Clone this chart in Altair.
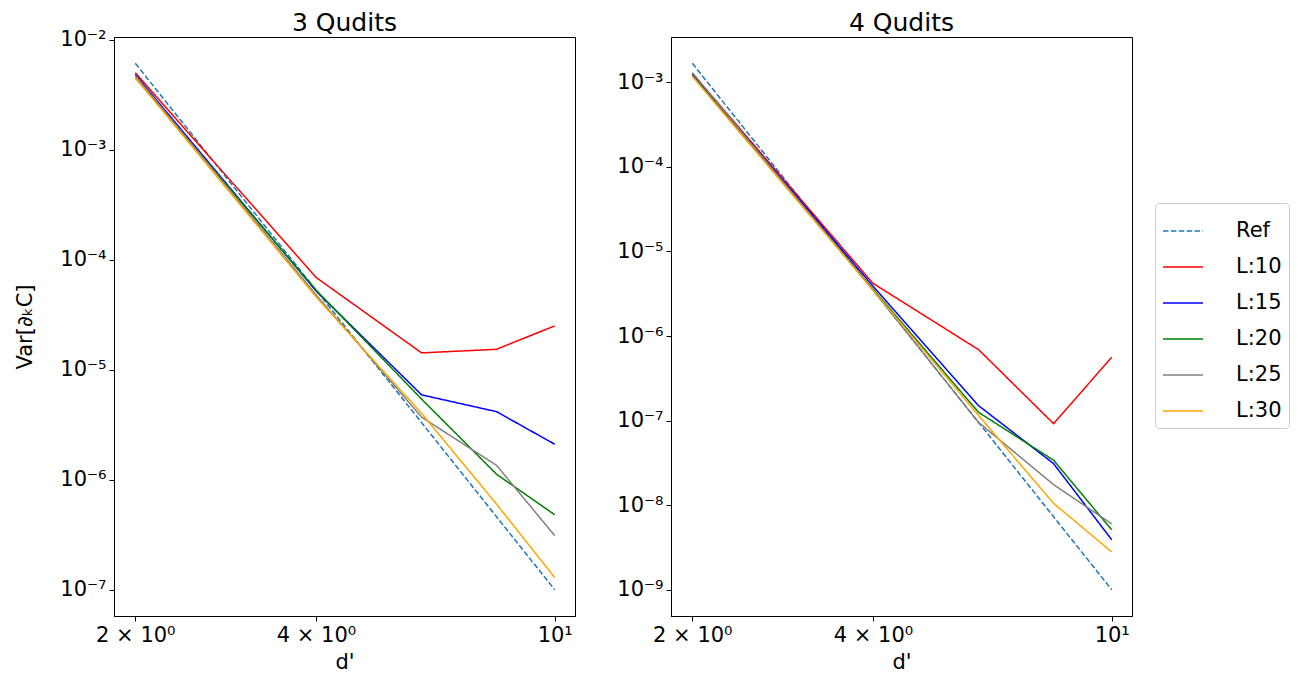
import altair as alt
import pandas as pd

d_vals = [2, 4, 6, 8, 10]
series_names = ["Ref", "L:10", "L:15", "L:20", "L:25", "L:30"]
series_colors = ["#1f77b4", "#ff0000", "#0000ff", "#008000", "#808080", "#ffa500"]

# 3 Qudits
q3_ref = [6.08e-3, 5.3e-5, 3.3e-6, 4.6e-7, 1.0e-7]
q3_l10 = [5.0e-3, 6.9e-5, 1.42e-5, 1.53e-5, 2.5e-5]
q3_l15 = [4.8e-3, 5.2e-5, 5.9e-6, 4.15e-6, 2.1e-6]
q3_l20 = [4.5e-3, 5.3e-5, 5.4e-6, 1.12e-6, 4.8e-7]
q3_l25 = [4.7e-3, 4.8e-5, 3.7e-6, 1.35e-6, 3.1e-7]
q3_l30 = [4.5e-3, 4.6e-5, 4.0e-6, 6.0e-7, 1.29e-7]

# 4 Qudits
q4_ref = [1.68e-3, 3.5e-6, 9.5e-8, 7.3e-9, 1.0e-9]
q4_l10 = [1.28e-3, 4.2e-6, 6.9e-7, 9.2e-8, 5.6e-7]
q4_l15 = [1.25e-3, 3.9e-6, 1.5e-7, 3.1e-8, 3.9e-9]
q4_l20 = [1.2e-3, 3.6e-6, 1.25e-7, 3.4e-8, 5.1e-9]
q4_l25 = [1.3e-3, 3.5e-6, 9.5e-8, 1.75e-8, 6.0e-9]
q4_l30 = [1.18e-3, 3.5e-6, 1.15e-7, 1.05e-8, 2.8e-9]

x_ticks = [2, 4, 10]
y_ticks_3 = [1e-7, 1e-6, 1e-5, 1e-4, 1e-3, 1e-2]
y_ticks_4 = [1e-9, 1e-8, 1e-7, 1e-6, 1e-5, 1e-4, 1e-3]


def make_df(series_list):
    rows = []
    for name, vals in zip(series_names, series_list):
        for d, v in zip(d_vals, vals):
            rows.append({"d": d, "v": v, "s": name})
    return pd.DataFrame(rows)


df3 = make_df([q3_ref, q3_l10, q3_l15, q3_l20, q3_l25, q3_l30])
df4 = make_df([q4_ref, q4_l10, q4_l15, q4_l20, q4_l25, q4_l30])

sup = "'10' + " + "".join(["replace("] * 11) + "('' + round(log(datum.value)/LN10))" + \
    ", '-', '⁻'), '0', '⁰'), '1', '¹'), '2', '²'), '3', '³'), '4', '⁴'), '5', '⁵'), '6', '⁶'), '7', '⁷'), '8', '⁸'), '9', '⁹')"
xlab = "datum.value == 10 ? '10¹' : datum.value + ' × 10⁰'"

FONT = "DejaVu Sans"


def panel(df, title, title_offset, ydom, yticks, ytitle):
    return alt.Chart(df).mark_line(strokeWidth=1.5, clip=True).encode(
        x=alt.X("d:Q",
                scale=alt.Scale(type="log", domain=[1.843, 10.81], nice=False, zero=False),
                axis=alt.Axis(values=x_ticks, labelExpr=xlab, title="d'")),
        y=alt.Y("v:Q",
                scale=alt.Scale(type="log", domain=ydom, nice=False, zero=False),
                axis=alt.Axis(values=yticks, labelExpr=sup, title=ytitle)),
        color=alt.Color("s:N", sort=series_names,
                        scale=alt.Scale(domain=series_names, range=series_colors),
                        legend=alt.Legend(title=None)),
        strokeDash=alt.StrokeDash("s:N", sort=series_names,
                                  scale=alt.Scale(domain=series_names,
                                                  range=[[5.5, 2.4], [1, 0], [1, 0], [1, 0], [1, 0], [1, 0]]),
                                  legend=alt.Legend(title=None)),
        order=alt.Order("d:Q"),
    ).properties(
        width=461, height=579,
        title=alt.TitleParams(title, offset=title_offset),
    )


left = panel(df3, "3 Qudits", -7, [10 ** -7.239, 10 ** -1.977], y_ticks_3, "Var[∂ₖC]")
right = panel(df4, "4 Qudits", 1, [10 ** -9.311, 10 ** -2.464], y_ticks_4, "")

chart = alt.hconcat(
    left, right, spacing=40,
    padding={"left": 6, "top": 2, "right": 0, "bottom": 0},
).configure(
    font=FONT,
).configure_view(
    stroke="black", strokeWidth=1,
).configure_axis(
    grid=False,
    domainColor="black",
    tickColor="black",
    tickSize=5,
    labelFontSize=21,
    labelColor="black",
    titleFontSize=21,
    titleFontWeight="normal",
    titleColor="black",
    labelFont=FONT,
    titleFont=FONT,
    labelPadding=3,
).configure_axisY(
    titlePadding=24,
).configure_axisX(
    titlePadding=6,
).configure_title(
    fontSize=25, fontWeight="normal", font=FONT, anchor="middle",
    color="black", frame="group",
).configure_legend(
    orient="none", legendX=1041, legendY=166,
    fillColor="white", strokeColor="#cccccc", cornerRadius=4, padding=7,
    symbolType="stroke", symbolSize=1600, symbolStrokeWidth=1.5,
    labelFontSize=21, labelFont=FONT, labelColor="black", labelOffset=32,
    rowPadding=5,
)

chart.save("out.html", embed_options={"renderer": "svg", "actions": False})
